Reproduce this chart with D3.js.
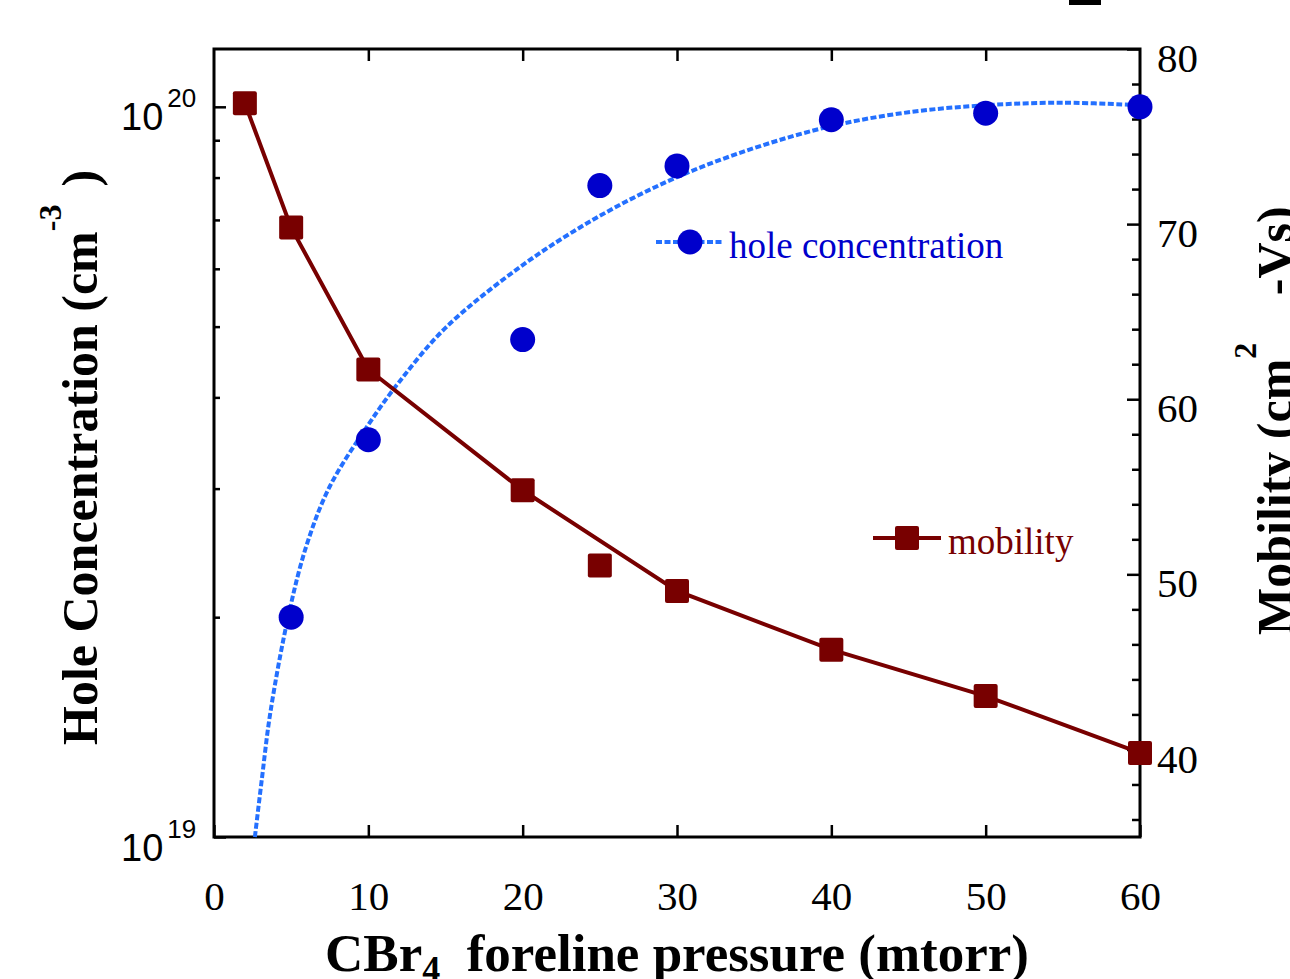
<!DOCTYPE html>
<html>
<head>
<meta charset="utf-8">
<script src="https://cdn.jsdelivr.net/npm/d3@7"></script>
<style>
  body { margin: 0; background: #fff; }
  svg { display: block; }
  text { font-family: "Liberation Serif", "Times New Roman", serif; }
</style>
</head>
<body>
<svg id="chart" width="1290" height="979"></svg>
<script>
// ---- data ----
var pressure = [2, 5, 10, 20, 25, 30, 40, 50, 60];
var mobility = [76.9, 69.8, 61.7, 54.8, 50.5, 49.05, 45.7, 43.05, 39.8];
var mobilityLinePressure = [2, 5, 10, 20, 30, 40, 50, 60]; // the drawn line skips 25

var holePressure = [5, 10, 20, 25, 30, 40, 50, 60];
var holeConc = [2.0e19, 3.5e19, 4.8e19, 7.8e19, 8.3e19, 9.6e19, 9.8e19, 1.0e20];

// dotted fit curve
var fitPressure = [2.65, 3.1, 3.65, 4.8, 6.0, 7.5, 10, 12, 15, 20, 25, 30, 35, 40, 45, 50, 55, 60];
var fitConc = [1.0e19, 1.2e19, 1.48e19, 2.0e19, 2.51e19, 3.02e19, 3.67e19, 4.2e19, 4.98e19,
               6.07e19, 7.09e19, 8.01e19, 8.78e19, 9.41e19, 9.83e19, 1.005e20, 1.013e20, 1.005e20];

var xTicks = [0, 10, 20, 30, 40, 50, 60];
var leftMajor = [1e19, 1e20];
var leftMinor = [2e19, 3e19, 4e19, 5e19, 6e19, 7e19, 8e19, 9e19];
var rightMajor = [40, 50, 60, 70, 80];
var rightMinor = d3.range(36, 80, 2).filter(function(d){ return d % 10 != 0; });

// ==========================================================================
var svg = d3.select("#chart");
var box = {left: 214, right: 1140, top: 49, bottom: 837};

var blue = "#0000cc", dotBlue = "#2470ff", red = "#780000";

var x = d3.scaleLinear().domain([0, 60]).range([box.left, box.right]);
var yL = d3.scaleLog().domain([1e19, 1.2e20]).range([box.bottom, box.top]);
var yR = d3.scaleLinear().domain([35, 80]).range([box.bottom, box.top]);

// stray mark at the top edge
svg.append("rect").attr("x", 1069).attr("y", 0).attr("width", 32).attr("height", 5).attr("fill", "#000");

// ---- axes (ticks pointing inward) ----
function styleAxis(g) {
  g.select(".domain").remove();
  g.selectAll("line").attr("stroke", "#000").attr("stroke-width", 2.5);
}

svg.append("g").attr("transform", "translate(0," + box.bottom + ")")
  .call(d3.axisBottom(x).tickValues(xTicks).tickSize(-12).tickPadding(44).tickFormat(d3.format("d")))
  .call(styleAxis)
  .selectAll("text").attr("font-size", 41).attr("fill", "#000");

svg.append("g").attr("transform", "translate(0," + box.top + ")")
  .call(d3.axisTop(x).tickValues(xTicks.slice(1, -1)).tickSize(-12).tickFormat(""))
  .call(styleAxis);

svg.append("g").attr("transform", "translate(" + box.right + ",0)")
  .call(d3.axisRight(yR).tickValues(rightMajor).tickSize(-13).tickPadding(17))
  .call(styleAxis)
  .selectAll("text").attr("font-size", 41).attr("fill", "#000").attr("dy", "0.55em");

svg.append("g").attr("transform", "translate(" + box.right + ",0)")
  .call(d3.axisRight(yR).tickValues(rightMinor).tickSize(-8).tickFormat(""))
  .call(styleAxis);

var leftAxis = svg.append("g").attr("transform", "translate(" + box.left + ",0)")
  .call(d3.axisLeft(yL).tickValues(leftMajor).tickSize(-12))
  .call(styleAxis);
leftAxis.selectAll("text").each(function(d) {
  var t = d3.select(this).text("")
    .attr("text-anchor", "start").attr("x", -93).attr("dy", 23)
    .style("font-family", "'Liberation Sans', Arial, sans-serif").attr("font-size", 38).attr("fill", "#000");
  t.append("tspan").text("10");
  t.append("tspan").attr("dx", 4).attr("dy", -23).attr("font-size", 26).text(Math.round(Math.log10(d)));
});

svg.append("g").attr("transform", "translate(" + box.left + ",0)")
  .call(d3.axisLeft(yL).tickValues(leftMinor).tickSize(-6).tickFormat(""))
  .call(styleAxis);

// frame
svg.append("rect").attr("x", box.left).attr("y", box.top)
  .attr("width", box.right - box.left).attr("height", box.bottom - box.top)
  .attr("fill", "none").attr("stroke", "#000").attr("stroke-width", 3);

// ---- series ----
var fitLine = d3.line().x(function(d, i){ return x(fitPressure[i]); })
  .y(function(d){ return yL(d); }).curve(d3.curveCatmullRom.alpha(0.5));
svg.append("path").datum(fitConc).attr("d", fitLine)
  .attr("fill", "none").attr("stroke", dotBlue).attr("stroke-width", 4)
  .attr("stroke-dasharray", "6,2.5");

var mobLine = d3.line().x(function(d){ return x(d); })
  .y(function(d){ return yR(mobility[pressure.indexOf(d)]); });
svg.append("path").datum(mobilityLinePressure).attr("d", mobLine)
  .attr("fill", "none").attr("stroke", red).attr("stroke-width", 4);

svg.append("g").selectAll("rect").data(mobility).enter().append("rect")
  .attr("x", function(d, i){ return x(pressure[i]) - 12; })
  .attr("y", function(d){ return yR(d) - 12; })
  .attr("width", 24).attr("height", 24).attr("rx", 2).attr("fill", red);

svg.append("g").selectAll("circle").data(holeConc).enter().append("circle")
  .attr("cx", function(d, i){ return x(holePressure[i]); })
  .attr("cy", function(d){ return yL(d); })
  .attr("r", 12.5).attr("fill", blue);

// ---- legends ----
var lg1 = svg.append("g");
lg1.append("line").attr("x1", 656).attr("x2", 722).attr("y1", 242).attr("y2", 242)
  .attr("stroke", dotBlue).attr("stroke-width", 4).attr("stroke-dasharray", "6,2.5");
lg1.append("circle").attr("cx", 690).attr("cy", 242).attr("r", 12.5).attr("fill", blue);
lg1.append("text").attr("x", 729).attr("y", 258).attr("font-size", 37).attr("fill", blue)
  .text("hole concentration");

var lg2 = svg.append("g");
lg2.append("line").attr("x1", 873).attr("x2", 941).attr("y1", 538).attr("y2", 538)
  .attr("stroke", red).attr("stroke-width", 4);
lg2.append("rect").attr("x", 895).attr("y", 526).attr("width", 24).attr("height", 24)
  .attr("rx", 2).attr("fill", red);
lg2.append("text").attr("x", 948).attr("y", 554).attr("font-size", 37).attr("fill", red)
  .text("mobility");

// ---- axis titles ----
var xt = svg.append("text").attr("x", (box.left + box.right) / 2).attr("y", 971)
  .attr("text-anchor", "middle").attr("font-size", 53).attr("font-weight", "bold")
  .attr("xml:space", "preserve").style("white-space", "pre");
xt.append("tspan").text("CBr");
xt.append("tspan").attr("font-size", 36).attr("dy", 10).text("4");
xt.append("tspan").attr("dy", -10).text("  foreline pressure (mtorr)");

var lt = svg.append("text").attr("transform", "translate(97,745) rotate(-90)")
  .attr("font-size", 50).attr("font-weight", "bold");
lt.append("tspan").text("Hole Concentration (cm");
lt.append("tspan").attr("font-size", 32).attr("dy", -36).text("-3");
lt.append("tspan").attr("dy", 36).attr("dx", 18).text(")");

var rt = svg.append("text").attr("transform", "translate(1292,635) rotate(-90)")
  .attr("font-size", 50).attr("font-weight", "bold")
  .attr("xml:space", "preserve").style("white-space", "pre");
rt.append("tspan").text("Mobility (cm");
rt.append("tspan").attr("font-size", 32).attr("dy", -36).text("2");
rt.append("tspan").attr("dy", 36).attr("dx", 35).text(" -Vs)");
</script>
</body>
</html>
